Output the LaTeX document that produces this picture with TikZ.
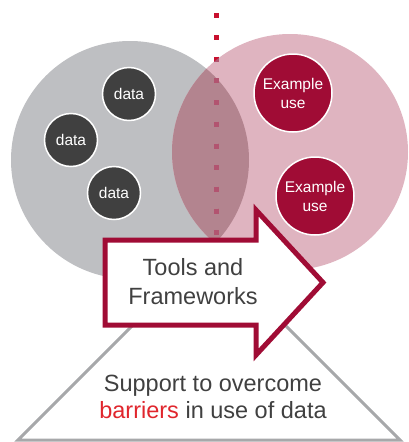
\documentclass[tikz,border=0pt]{standalone}
\usepackage{fontspec}
\setmainfont{Liberation Sans}
\usetikzlibrary{positioning}
\definecolor{greycirc}{HTML}{BEBFC2}
\definecolor{pinkcirc}{HTML}{DFB4C0}
\definecolor{lenscol}{HTML}{B3848F}
\definecolor{crimson}{HTML}{A00C35}
\definecolor{dotred}{HTML}{C8102E}
\definecolor{dotmuted}{HTML}{B25470}
\definecolor{darkgrey}{HTML}{404040}
\definecolor{tribar}{HTML}{A7A8AA}
\definecolor{barred}{HTML}{E0262D}

\begin{document}
\begin{tikzpicture}[x=1pt,y=-1pt,
		datanode/.style={circle,fill=darkgrey,draw=white,line width=1.5pt,minimum size=53pt,inner sep=0pt,text=white,font=\fontsize{15.5}{18}\selectfont},
		usenode/.style={circle,fill=crimson,draw=white,line width=1.5pt,minimum size=78pt,inner sep=0pt,text=white,align=center,font=\fontsize{15.5}{19}\selectfont},
		dotline/.style={line width=5pt,dash pattern=on 5pt off 16.7pt},
		bigtext/.style={text=darkgrey,align=center,font=\fontsize{23.5}{27}\selectfont}]
		\useasboundingbox (0,0) rectangle (409,442);

		% the two sets
		\fill[greycirc] (130,160) circle (119pt);
		\fill[pinkcirc] (290,152) circle (118pt);
		\begin{scope}
			\clip (130,160) circle (119pt);
			\fill[lenscol] (290,152) circle (118pt);
		\end{scope}

		% dividing line
		\coordinate (dtop) at (216,13.3);
		\coordinate (dbot) at (216,237);
		\draw[dotline,dotred] (dtop) -- (dbot);
		\begin{scope}
			\clip (290,152) circle (118pt);
			\draw[dotline,dotmuted] (dtop) -- (dbot);
		\end{scope}

		\node[datanode]	(d1)	at (129,94)	{data};
		\node[datanode]	(d2)	at (71,140)	{data};
		\node[datanode]	(d3)	at (114,193)	{data};
		\node[usenode]	(u1)	at (293,93)	{Example\\use};
		\node[usenode]	(u2)	at (315,196)	{Example\\use};

		% base triangle
		\draw[tribar,line width=3pt,line join=miter] (18,440) -- (209,249) -- (400,440) -- cycle;
		\node[bigtext]	(support)	at (213,396.5)	{Support to overcome\\\textcolor{barred}{barriers} in use of data};

		% block arrow
		\filldraw[fill=white,draw=crimson,line width=5pt,line join=miter]
			(105,240) -- (256,240) -- (256,210) -- (323,282.5) -- (256,355) -- (256,325) -- (105,325) -- cycle;
		\node[bigtext,font=\fontsize{23.5}{29}\selectfont]	(tools)	at (193,282)	{Tools and\\Frameworks};
	\end{tikzpicture}
\end{document}
